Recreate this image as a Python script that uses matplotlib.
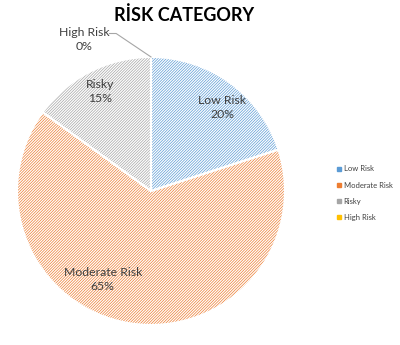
import matplotlib.pyplot as plt
import matplotlib.patches as mpatches

plt.rcParams['font.family'] = ['Lato', 'DejaVu Sans']
plt.rcParams['hatch.linewidth'] = 0.5

categories = ['Low Risk', 'Moderate Risk', 'Risky', 'High Risk']
shares = [20, 65, 15, 0]
colors = ['#5B9BD5', '#ED7D31', '#A5A5A5', '#FFC000']
txt = '#404040'

fig = plt.figure(figsize=(4, 3.45), dpi=100)
ax = fig.add_axes([0.0425, 0.058, 0.67, 0.777])

# hatched wedges (hatch takes the edge colour)
wedges, _ = ax.pie(shares, colors=['white'] * 4, startangle=90, counterclock=False,
                   radius=1, wedgeprops=dict(linewidth=0))
for w, c in zip(wedges, colors):
    w.set_hatch('/' * 12)
    w.set_edgecolor(c)
    w.set_linewidth(0)

# white separators on top
ax.pie(shares, colors=['none'] * 4, startangle=90, counterclock=False, radius=1,
       wedgeprops=dict(linewidth=1.5, edgecolor='white', fill=False))

ax.set_xlim(-1, 1)
ax.set_ylim(-1, 1)

label_pos = [(0.53, 0.62), (-0.36, -0.66), (-0.38, 0.74)]
for (x, y), name, s in zip(label_pos, categories[:3], shares[:3]):
    ax.text(x, y, f'{name}\n{s}%', ha='center', va='center', fontsize=8.8,
            color=txt, linespacing=1.35)

# High Risk label with leader line
ax.text(-0.5, 1.13, f'{categories[3]}\n{shares[3]}%', ha='center', va='center',
        fontsize=8.8, color=txt, linespacing=1.35, clip_on=False)
ax.plot([-0.31, -0.26, 0.0], [1.175, 1.175, 1.0], color='#A6A6A6', lw=0.8, clip_on=False)

fig.text(0.46, 0.955, 'RİSK CATEGORY', ha='center', va='center', fontsize=13,
         fontweight='bold', color='black')

handles = [mpatches.Patch(color=c, label=n) for c, n in zip(colors, categories)]
fig.legend(handles=handles, loc='center left', bbox_to_anchor=(0.825, 0.44),
           frameon=False, fontsize=5.5, handlelength=0.5, handleheight=0.5,
           handletextpad=0.4, labelspacing=1.2, labelcolor=txt)

fig.savefig('out.png', dpi=100)
